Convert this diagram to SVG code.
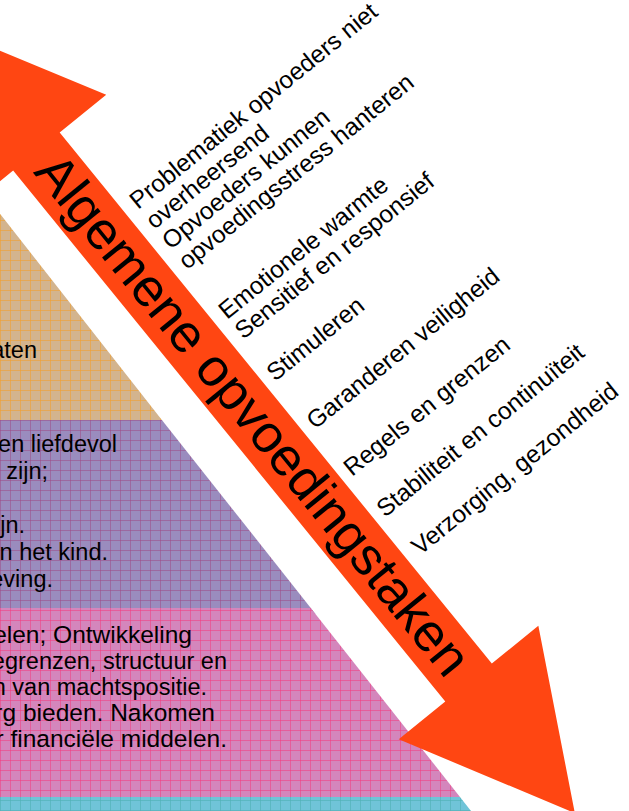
<svg xmlns="http://www.w3.org/2000/svg" width="629" height="811" viewBox="0 0 629 811">
<defs>
<pattern id="pTan" width="10" height="10" patternUnits="userSpaceOnUse">
<rect width="10" height="10" fill="#D3B48E"/>
<path d="M0 0.5H10M0.5 0V10" stroke="#F2A030" stroke-opacity="0.6" stroke-width="1" fill="none"/>
</pattern>
<pattern id="pPur" width="10" height="10" patternUnits="userSpaceOnUse">
<rect width="10" height="10" fill="#9A8CBE"/>
<path d="M0 0.5H10M0.5 0V10" stroke="#9E4C86" stroke-opacity="0.55" stroke-width="1" fill="none"/>
</pattern>
<pattern id="pPink" width="10" height="10" patternUnits="userSpaceOnUse">
<rect width="10" height="10" fill="#D486BC"/>
<path d="M0 0.5H10M0.5 0V10" stroke="#F23E80" stroke-opacity="0.55" stroke-width="1" fill="none"/>
</pattern>
<pattern id="pCyan" width="10" height="10" patternUnits="userSpaceOnUse">
<rect width="10" height="10" fill="#70C4D8"/>
<path d="M0 0.5H10M0.5 0V10" stroke="#4EB0B4" stroke-opacity="0.6" stroke-width="1" fill="none"/>
</pattern>
</defs>
<style>
.pt{font-family:"Liberation Sans",Arial,sans-serif;font-size:23.5px;fill:#000;text-anchor:end}
.pk{font-size:24.5px}
.lb{font-family:"Liberation Sans",Arial,sans-serif;font-size:24.5px;fill:#000}
.big{font-family:"Liberation Sans",Arial,sans-serif;font-size:53px;fill:#000}
</style>
<rect width="629" height="811" fill="#fff"/>
<g id="pyramid">
<g id="band-tan"><polygon points="0,0 0,420 161.9,420 -3,210" fill="url(#pTan)"/>
<text class="pt" x="37" y="358">aten</text></g>
<g id="band-purple"><polygon points="0,420 161.9,420 315.5,614 0,614" fill="url(#pPur)"/>
<text class="pt" x="117" y="452">en liefdevol</text>
<text class="pt" x="48" y="479">zijn;</text>
<text class="pt" x="25" y="533">jn.</text>
<text class="pt" x="108" y="560">n het kind.</text>
<text class="pt" x="53" y="587">eving.</text></g>
<g id="band-pink"><polygon points="0,608 310.7,608 460,797 0,797" fill="url(#pPink)"/>
<text class="pt pk" x="192" y="643">elen; Ontwikkeling</text>
<text class="pt" x="227" y="669">egrenzen, structuur en</text>
<text class="pt" x="207" y="695">n van machtspositie.</text>
<text class="pt pk" x="215" y="721">rg bieden. Nakomen</text>
<text class="pt pk" x="227" y="747">r financiële middelen.</text></g>
<g id="band-cyan"><polygon points="0,797 460,797 471,811 0,811" fill="url(#pCyan)"/></g>
</g>
<g id="connectors">
<g id="arrow" transform="translate(-69,22) rotate(50.86)">
<polygon points="0,0 167,-90 167,-30 851.6,-30 851.6,-90 1020,0 851.6,90 851.6,30 167,30 167,90" fill="#FF4612"/>
<text class="big" x="181" y="16">Algemene opvoedingstaken</text>
</g>
</g>
<g id="labels">
<g id="l1"><text class="lb" transform="translate(138,210) rotate(-39)"><tspan x="0" y="0">Problematiek opvoeders niet</tspan><tspan x="0" dy="25.9">overheersend</tspan><tspan x="0" dy="25.9">Opvoeders kunnen</tspan><tspan x="0" dy="25.9">opvoedingsstress hanteren</tspan></text></g>
<g id="l2"><text class="lb" transform="translate(227,320) rotate(-39)"><tspan x="0" y="0">Emotionele warmte</tspan><tspan x="0" dy="25.9">Sensitief en responsief</tspan></text></g>
<g id="l3"><text class="lb" transform="translate(275,382) rotate(-39)">Stimuleren</text></g>
<g id="l4"><text class="lb" transform="translate(315,430) rotate(-39)">Garanderen veiligheid</text></g>
<g id="l5"><text class="lb" transform="translate(352,477) rotate(-39)">Regels en grenzen</text></g>
<g id="l6"><text class="lb" transform="translate(385,518) rotate(-39)">Stabiliteit en continuïteit</text></g>
<g id="l7"><text class="lb" transform="translate(420,556) rotate(-39)">Verzorging, gezondheid</text></g>
</g>
</svg>
